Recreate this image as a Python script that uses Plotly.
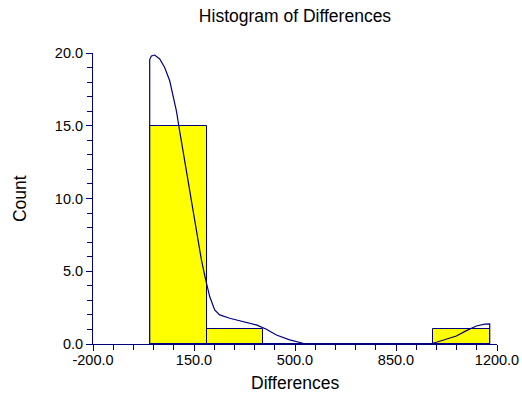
import plotly.graph_objects as go

# ---- data ----
bin_edges = [-3.0, 193.3, 389.7, 586.0, 782.3, 978.7, 1175.0]
counts = [15, 1, 0, 0, 0, 1]

curve_x = [-3.5, -3.5, 2.4, 13.8, 31.1, 48.4, 65.8, 77.2, 89.0, 97.0, 104.0,
           123.7, 146.5, 175.6, 190.5, 204.4, 221.7, 239.1, 273.7, 319.8,
           366.2, 400.9, 435.5, 481.6, 527.7, 562.4, 966.8, 990.0, 1024.6,
           1059.3, 1094.0, 1128.6, 1157.4, 1174.7, 1174.7]
curve_y = [0.0, 19.55, 19.8, 19.86, 19.59, 19.0, 18.09, 17.17, 16.02, 15.03, 14.2,
           12.0, 9.47, 5.79, 4.41, 3.26, 2.34, 2.0, 1.77, 1.54,
           1.31, 1.01, 0.62, 0.28, 0.05, 0.0, 0.0, 0.12, 0.32,
           0.55, 0.92, 1.24, 1.36, 1.38, 0.0]

x_ticks = [-200, 150, 500, 850, 1200]
y_ticks = [0, 5, 10, 15, 20]

NAVY = "#000080"
FONT = "Liberation Sans, Arial, sans-serif"

centers = [(bin_edges[i] + bin_edges[i + 1]) / 2 for i in range(len(counts))]
widths = [bin_edges[i + 1] - bin_edges[i] for i in range(len(counts))]

fig = go.Figure()
fig.add_trace(go.Bar(
    x=centers, y=counts, width=widths,
    marker=dict(color="#FFFF00", line=dict(color=NAVY, width=1)),
    showlegend=False, hoverinfo="skip",
))
fig.add_trace(go.Scatter(
    x=curve_x, y=curve_y, mode="lines",
    line=dict(color=NAVY, width=1.2),
    showlegend=False, hoverinfo="skip",
))

axis_common = dict(
    showline=True, linecolor=NAVY, linewidth=1,
    ticks="outside", ticklen=6, tickcolor=NAVY, tickwidth=1,
    showgrid=False, zeroline=False,
    tickfont=dict(family=FONT, size=14.5, color="#000000"),
)

fig.update_xaxes(
    range=[-200, 1200],
    tickvals=x_ticks, ticktext=[f"{v:.1f}" for v in x_ticks],
    ticklabelstandoff=-3,
    minor=dict(dtick=70, tick0=-200, ticks="outside", ticklen=5,
               tickcolor=NAVY, tickwidth=1, showgrid=False),
    **axis_common,
)
fig.update_yaxes(
    range=[0, 20],
    tickvals=y_ticks, ticktext=[f"{v:.1f}" for v in y_ticks],
    minor=dict(dtick=1, tick0=0, ticks="outside", ticklen=5,
               tickcolor=NAVY, tickwidth=1, showgrid=False),
    **axis_common,
)

fig.update_layout(
    width=522, height=397,
    margin=dict(l=93, r=25, t=53, b=53, autoexpand=False),
    paper_bgcolor="white", plot_bgcolor="white",
    bargap=0,
    title=dict(text="Histogram of Differences", x=0.5, xref="paper",
               xanchor="center", y=1 - 16 / 397, yanchor="middle",
               font=dict(family=FONT, size=17.5, color="#000000")),
    annotations=[
        dict(text="Differences", xref="paper", yref="paper", x=0.5,
             y=(344 - 383) / 291, xanchor="center", yanchor="middle",
             showarrow=False, font=dict(family=FONT, size=17.5, color="#000000")),
        dict(text="Count", xref="paper", yref="paper", x=(20 - 93) / 404,
             y=0.498, xanchor="center", yanchor="middle", textangle=-90,
             showarrow=False, font=dict(family=FONT, size=17.5, color="#000000")),
    ],
)

fig.write_html("out.html")
